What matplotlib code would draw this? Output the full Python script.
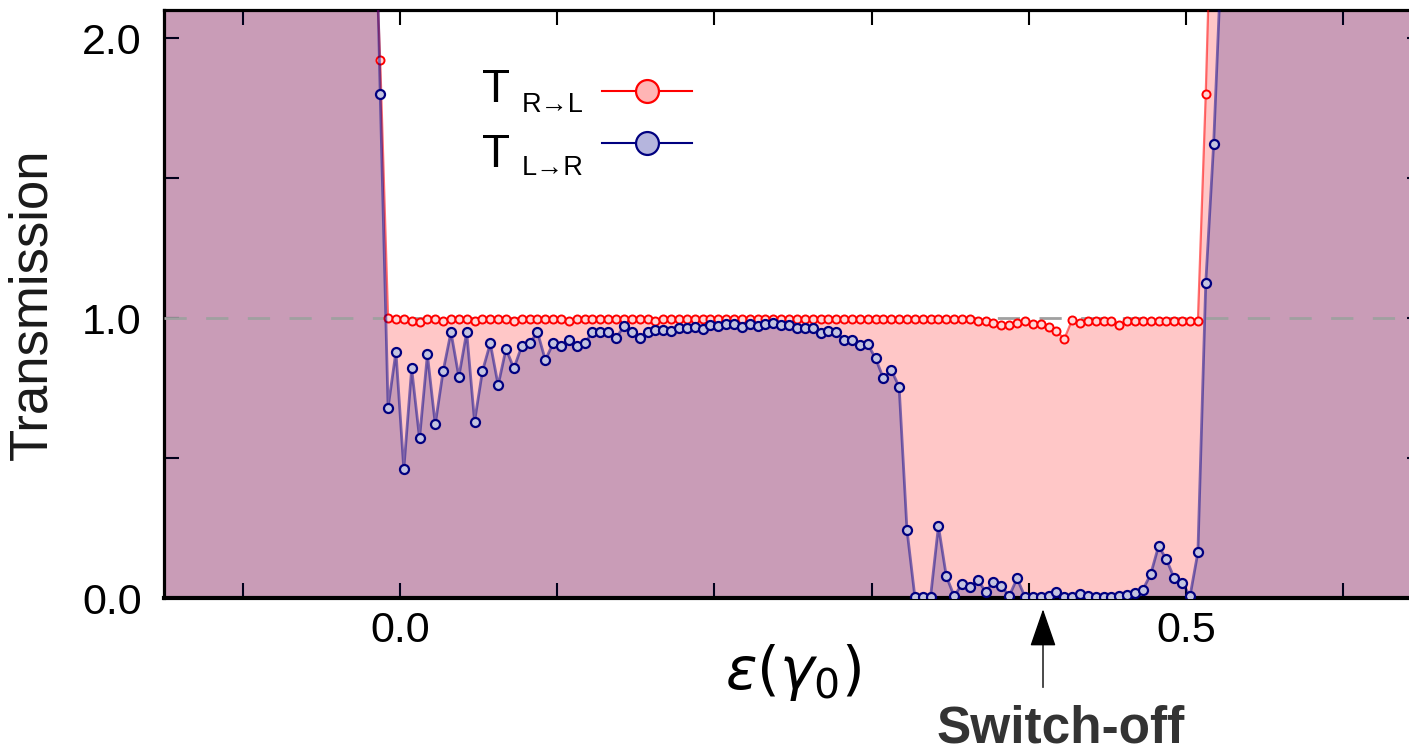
import numpy as np
import matplotlib
matplotlib.use('Agg')
import matplotlib.pyplot as plt

plt.rcParams['font.family'] = ['Liberation Sans', 'DejaVu Sans']

# energy grid: step of 0.005, first point is just left of the gap (off scale)
X0 = -0.0175
STEP = 0.005

# T_{R->L}  (red)
t_rl = ([2.6, 1.92]
        + [1.0, 0.995, 0.995, 0.99, 0.985, 0.995, 0.995, 0.99, 0.995, 0.995,
           0.995, 0.99, 0.995, 0.995, 0.995, 0.995, 0.99, 0.995, 0.995, 0.995,
           0.995, 0.995, 0.995, 0.99, 0.995, 0.995, 0.995, 0.995, 0.995, 0.995,
           0.995, 0.995, 0.995, 0.995, 0.99, 0.995, 0.995, 0.995, 0.995, 0.995,
           0.995, 0.995, 0.995, 0.995, 0.995, 0.995, 0.995, 0.995, 0.995, 0.995,
           0.995, 0.995, 0.995, 0.995, 0.995, 0.995, 0.995, 0.995, 0.995, 0.995,
           0.995, 0.995, 0.995, 0.995, 0.995, 0.995, 0.995, 0.995, 0.995, 0.995,
           0.995, 0.995, 0.995, 0.995, 0.995, 0.99, 0.99]
        + [0.983, 0.975, 0.975, 0.983, 0.99, 0.98, 0.98, 0.967, 0.955, 0.925,
           0.993, 0.983, 0.99, 0.99, 0.99, 0.99, 0.975,
           0.99, 0.99, 0.99, 0.99, 0.99, 0.99, 0.99, 0.99, 0.99, 0.99]
        + [1.80, 2.8])

# T_{L->R}  (blue)
t_lr = [3.0,
        1.80, 0.68, 0.88, 0.46, 0.82, 0.57, 0.87, 0.62, 0.81, 0.95,
        0.79, 0.95, 0.63, 0.81, 0.91, 0.76, 0.89, 0.82, 0.90, 0.91,
        0.95, 0.85, 0.91, 0.90, 0.92, 0.90, 0.91, 0.95, 0.95, 0.95,
        0.93, 0.97, 0.95, 0.93, 0.95, 0.957, 0.957, 0.955, 0.963, 0.963,
        0.967, 0.96, 0.975, 0.97, 0.979, 0.979, 0.967, 0.979, 0.97, 0.979,
        0.981, 0.975, 0.975, 0.963, 0.963, 0.963, 0.948, 0.952, 0.95, 0.921,
        0.921, 0.904, 0.907, 0.856, 0.785, 0.814, 0.755, 0.243, 0.005, 0.005,
        0.005, 0.257, 0.078, 0.007, 0.05, 0.04, 0.064, 0.023, 0.058, 0.043,
        0.007, 0.07, 0.005, 0.005, 0.003, 0.007, 0.02, 0.005, 0.005, 0.014,
        0.007, 0.003, 0.003, 0.003, 0.007, 0.011, 0.018, 0.03, 0.085, 0.186,
        0.138, 0.07, 0.055, 0.007, 0.163, 1.125, 1.62, 2.3]

XMIN, XMAX = -0.15, 0.65
YMIN, YMAX = 0.0, 2.1
xticks = [-0.1, 0.0, 0.1, 0.2, 0.3, 0.4, 0.5, 0.6]
xticklabels = ['', '0.0', '', '', '', '', '0.5', '']
yticks = [0.0, 0.5, 1.0, 1.5, 2.0]
yticklabels = ['0.0', '', '1.0', '', '2.0']
switch_off = 0.409

t_rl = np.array(t_rl)
t_lr = np.array(t_lr)
x_rl = X0 + STEP * np.arange(len(t_rl))
x_lr = X0 + STEP * np.arange(len(t_lr))

fig = plt.figure(figsize=(14.09, 7.53), dpi=100)
ax = fig.add_axes([0.1164, 0.2058, 0.8928, 0.7809])

# filled areas, held at the off-scale end values out to the axis edges
ax.fill_between(np.r_[XMIN, x_rl, XMAX], 0, np.r_[t_rl[0], t_rl, t_rl[-1]],
                color='red', alpha=0.22, lw=0, zorder=1)
ax.fill_between(np.r_[XMIN, x_lr, XMAX], 0, np.r_[t_lr[0], t_lr, t_lr[-1]],
                color='#000080', alpha=0.21, lw=0, zorder=2)

ax.axhline(1.0, color='#a0a0a0', lw=2, linestyle=(0, (8, 7)), zorder=3)

ax.plot(x_rl, t_rl, color='red', alpha=0.55, lw=1.6, zorder=4)
ax.plot(x_rl, t_rl, 'o', ms=5.8, mfc='#ffd6d6', mec='red', mew=1.4, zorder=5)
ax.plot(x_lr, t_lr, color='#00008b', alpha=0.5, lw=2.0, zorder=6)
ax.plot(x_lr, t_lr, 'o', ms=6.5, mfc='#c4c4e0', mec='#000080', mew=1.6, zorder=7)

ax.set_xlim(XMIN, XMAX)
ax.set_ylim(YMIN, YMAX)
ax.set_xticks(xticks)
ax.set_xticklabels(xticklabels)
ax.set_yticks(yticks)
ax.set_yticklabels(yticklabels)
ax.tick_params(direction='in', length=11, width=1.5, top=True, right=True,
               labelsize=31, colors='black')
ax.tick_params(axis='x', pad=9)
ax.tick_params(axis='y', pad=16)
for side in ['left', 'top', 'right']:
    ax.spines[side].set_linewidth(2.3)
ax.spines['bottom'].set_linewidth(3)

ax.set_ylabel('Transmission', fontsize=38, color='#1a1a1a', labelpad=18)
ax.set_xlabel(r'$\varepsilon(\gamma_0)$', fontsize=42, labelpad=-6)

# legend drawn by hand: big T, lowered subscript, handle on the right
rows = [('R\u2192L', 0.8435, 0.8265, 0.8622, 'red', '#ffb5b5'),
        ('L\u2192R', 0.7330, 0.7194, 0.7738, '#000080', '#b5b5dd')]
for sub, yT, ys, yh, ec, fc in rows:
    ax.text(0.2528, yT, 'T', transform=ax.transAxes, fontsize=33,
            va='baseline', ha='left', zorder=10)
    ax.text(0.2846, ys, sub, transform=ax.transAxes, fontsize=19.5,
            va='baseline', ha='left', zorder=10)
    ax.plot([0.3482, 0.4197], [yh, yh], transform=ax.transAxes, color=ec,
            lw=1.5, zorder=10)
    ax.plot([0.384], [yh], 'o', transform=ax.transAxes, ms=16.5, mfc=fc,
            mec=ec, mew=1.6, zorder=11)

# switch-off marker below the axis
ax.annotate('', xy=(switch_off, -0.019), xytext=(switch_off, -0.152),
            xycoords=('data', 'axes fraction'),
            textcoords=('data', 'axes fraction'),
            arrowprops=dict(arrowstyle='-|>,head_length=2.4,head_width=0.83',
                            color='black', lw=1, shrinkA=0, shrinkB=0))
ax.annotate('Switch-off', xy=(0.42, -0.245), xycoords=('data', 'axes fraction'),
            ha='center', va='baseline', fontsize=37, fontweight='bold',
            color='#333333', annotation_clip=False)

fig.savefig('out.png', dpi=100)
